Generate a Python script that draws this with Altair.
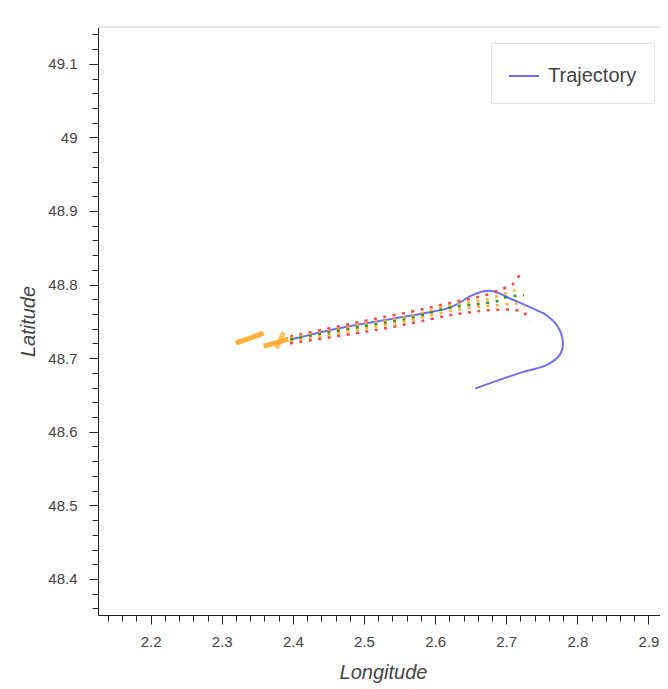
import altair as alt
import pandas as pd

# ---- observed trajectory ----
traj_lon = [2.3962, 2.4636, 2.5194, 2.5752, 2.6170, 2.6310, 2.6495, 2.6682, 2.6822,
            2.7053, 2.7426, 2.7565, 2.7728, 2.7798, 2.7750, 2.7565, 2.7240, 2.6565]
traj_lat = [48.7254, 48.7404, 48.7503, 48.7594, 48.7676, 48.7734, 48.7842, 48.7910, 48.7910,
            48.7811, 48.7652, 48.7584, 48.7425, 48.7200, 48.7041, 48.6905, 48.6814, 48.6588]

# ---- predicted (dotted) lines ----
pred_names = ["red_up", "orange_up", "green", "orange_lo", "red_lo"]
pred_colors = ["#ff3030", "#ffac1c", "#1a8a1a", "#ffac1c", "#ff3030"]
pred_lon = [
    [2.3962, 2.5008, 2.5658, 2.6170, 2.6704, 2.6961, 2.7077, 2.7160, 2.7216],
    [2.3962, 2.5008, 2.5658, 2.6170, 2.6728, 2.6983, 2.7109, 2.7207],
    [2.3962, 2.5008, 2.5658, 2.6170, 2.6589, 2.6868, 2.6983, 2.7248],
    [2.3962, 2.5008, 2.5658, 2.6170, 2.6589, 2.6868, 2.7137, 2.7262],
    [2.3962, 2.5008, 2.5658, 2.6170, 2.6473, 2.6752, 2.7147, 2.7262, 2.7332],
]
pred_lat = [
    [48.7295, 48.7507, 48.7630, 48.7743, 48.7856, 48.7947, 48.7992, 48.8083, 48.8205],
    [48.7274, 48.7462, 48.7575, 48.7713, 48.7798, 48.7879, 48.7914, 48.7978],
    [48.7251, 48.7435, 48.7543, 48.7679, 48.7734, 48.7774, 48.7825, 48.7856],
    [48.7227, 48.7401, 48.7516, 48.7632, 48.7697, 48.7720, 48.7743, 48.7707],
    [48.7200, 48.7357, 48.7473, 48.7577, 48.7621, 48.7652, 48.7652, 48.7607, 48.7507],
]

# ---- thick orange segments ----
seg_names = ["A", "B", "C"]
seg_opacity = [0.9, 0.9, 0.65]
seg_lon = [[2.3199, 2.3590], [2.3590, 2.3939], [2.3771, 2.3869]]
seg_lat = [[48.7204, 48.7340], [48.7163, 48.7258], [48.7136, 48.7353]]

# ---- axes ----
x_domain = [2.126, 2.9162]
y_domain = [48.351, 49.150]
x_ticks = [round(2.14 + 0.02 * i, 2) for i in range(39)]
y_ticks = [round(48.36 + 0.02 * i, 2) for i in range(40)]

W, H = 562, 588
FONT = "Liberation Sans"

traj_df = pd.DataFrame({"lon": traj_lon, "lat": traj_lat,
                        "i": list(range(len(traj_lon))),
                        "series": ["Trajectory"] * len(traj_lon)})

rows = []
for name, col, lo, la in zip(pred_names, pred_colors, pred_lon, pred_lat):
    for k, (a, b) in enumerate(zip(lo, la)):
        rows.append({"lon": a, "lat": b, "i": k, "line": name, "col": col})
pred_df = pd.DataFrame(rows)

rows = []
for name, op, lo, la in zip(seg_names, seg_opacity, seg_lon, seg_lat):
    for k, (a, b) in enumerate(zip(lo, la)):
        rows.append({"lon": a, "lat": b, "i": k, "seg": name, "op": op})
seg_df = pd.DataFrame(rows)

minor_test = "abs(datum.value*10 - round(datum.value*10)) > 0.001"
label_expr = f"{minor_test} ? '' : format(datum.value, '~r')"


def make_axis(title, values, lpad, tpad, title_x=None):
    kw = {}
    if title_x is not None:
        kw["titleX"] = title_x
    return alt.Axis(
        title=title, values=values, grid=False,
        labelExpr=label_expr, labelFlush=False, labelOverlap=False,
        tickSize=9, tickWidth=1, tickColor="#222",
        tickDash={"condition": {"test": minor_test, "value": [6, 20]}, "value": [20, 0]},
        domainColor="#222", domainWidth=1,
        labelFont=FONT, labelFontSize=15, labelColor="#444", labelPadding=lpad,
        titleFont=FONT, titleFontSize=20, titleFontStyle="italic",
        titleFontWeight="normal", titleColor="#444", titlePadding=tpad, **kw,
    )


X = alt.X("lon:Q", scale=alt.Scale(domain=x_domain, zero=False, nice=False),
          axis=make_axis("Longitude", x_ticks, 10, 13, 285))
Y = alt.Y("lat:Q", scale=alt.Scale(domain=y_domain, zero=False, nice=False),
          axis=make_axis("Latitude", y_ticks, 12, 9))

top_rule = alt.Chart(traj_df).mark_rule(color="#e6e6e6", strokeWidth=1).encode(
    x=alt.value(0), x2=alt.value(W), y=alt.value(0))

segs = alt.Chart(seg_df).mark_line(color="#ffa726", strokeWidth=5, strokeCap="butt").encode(
    x=X, y=Y, detail="seg:N", order="i:Q",
    opacity=alt.Opacity("op:Q", scale=None))

traj = alt.Chart(traj_df).mark_line(strokeWidth=2, interpolate="catmull-rom").encode(
    x=X, y=Y, order="i:Q",
    color=alt.Color("series:N",
                    scale=alt.Scale(domain=["Trajectory"], range=["#6e6ef7"]),
                    legend=alt.Legend(
                        title=None, orient="none", legendX=393, legendY=16,
                        fillColor="white", strokeColor="#e5e5e5", padding=17,
                        symbolType="stroke", symbolSize=900, symbolStrokeWidth=2,
                        labelFont=FONT, labelFontSize=20, labelColor="#444",
                        labelOffset=8)))

pred = alt.Chart(pred_df).mark_line(strokeWidth=2.5, strokeDash=[3, 6.5],
                                    interpolate="catmull-rom", opacity=0.9).encode(
    x=X, y=Y, detail="line:N", order="i:Q",
    stroke=alt.Stroke("col:N", scale=None))

chart = alt.layer(top_rule, segs, traj, pred).properties(
    width=W, height=H,
    autosize=alt.AutoSizeParams(type="none"),
    padding={"left": 90, "top": 19, "right": 0, "bottom": 70},
    background="white",
).configure_view(stroke=None)

chart.save("out.html", embed_options={"renderer": "svg", "actions": False})
